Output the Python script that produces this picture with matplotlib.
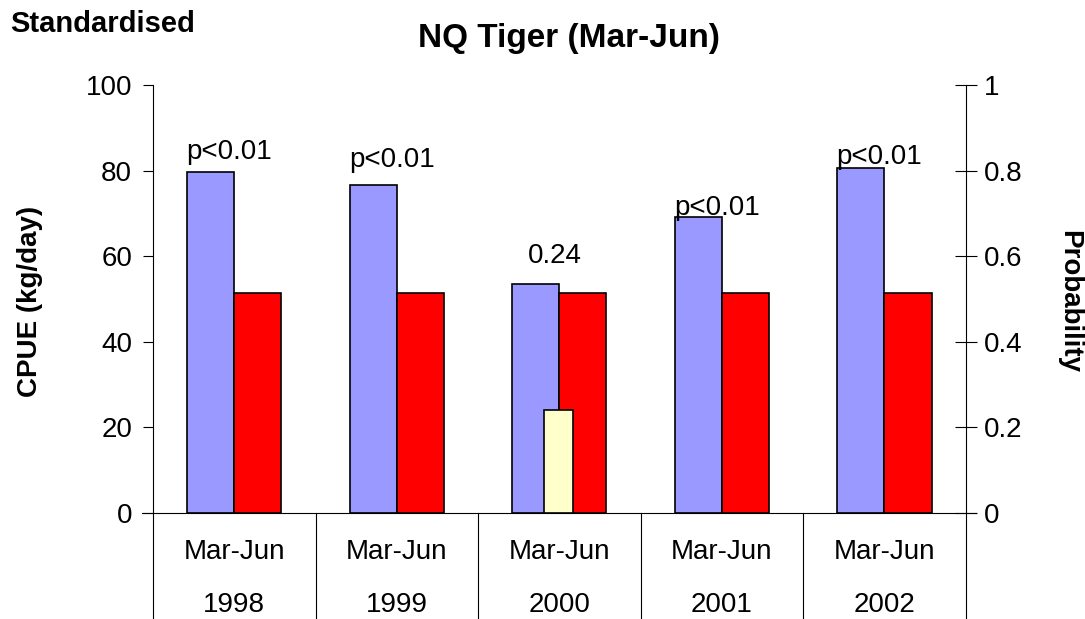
import numpy as np
import matplotlib.pyplot as plt

plt.rcParams['font.family'] = ['Liberation Sans', 'DejaVu Sans']

# data
years = ['1998', '1999', '2000', '2001', '2002']
season = ['Mar-Jun'] * 5
cpue = [79.7, 76.6, 53.5, 69.2, 80.6]
reference = [51.4, 51.4, 51.4, 51.4, 51.4]
prob_idx = [2]
prob_vals = [0.24]
p_labels = ['p<0.01', 'p<0.01', '0.24', 'p<0.01', 'p<0.01']
label_y = [84.3, 82.5, 60.0, 71.3, 83.2]

FS = 20

fig = plt.figure(figsize=(10.85, 6.19), dpi=100)
ax = fig.add_axes([0.141, 0.1712, 0.749, 0.6915])
ax2 = ax.twinx()

x = np.arange(len(years))
w = 0.29
ax.bar(x - w / 2, cpue, w, color='#9999ff', edgecolor='black', lw=1.2, zorder=2)
ax.bar(x + w / 2, reference, w, color='#ff0000', edgecolor='black', lw=1.2, zorder=2)
ax2.bar(np.array(prob_idx) - 0.005, prob_vals, 0.18, color='#ffffcc',
        edgecolor='black', lw=1.2, zorder=3)

for i, (lab, yy) in enumerate(zip(p_labels, label_y)):
    ax.text(i - 0.03, yy, lab, ha='center', va='center', fontsize=FS, zorder=5)

ax.set_xlim(-0.5, 4.5)
ax.set_ylim(0, 100)
ax2.set_ylim(0, 1)
ax.set_yticks(np.arange(0, 101, 20))
ax2.set_yticks(np.arange(0, 1.01, 0.2))
ax2.set_yticklabels(['0', '0.2', '0.4', '0.6', '0.8', '1'])
ax.set_xticks([])
ax.tick_params(axis='y', direction='out', length=7, width=0.8, labelsize=FS, pad=8)
ax2.tick_params(axis='y', direction='inout', length=16, width=0.8, labelsize=FS, pad=5)

for a in (ax, ax2):
    a.spines['top'].set_visible(False)
    a.set_facecolor('none')
ax2.spines['left'].set_visible(False)
ax.spines['right'].set_visible(False)
ax2.spines['bottom'].set_visible(False)
ax.spines['left'].set_linewidth(0.8)
ax2.spines['right'].set_linewidth(0.8)
ax.spines['bottom'].set_linewidth(0.8)
ax.spines['bottom'].set_bounds(-0.565, 4.565)
ax.spines['bottom'].set_zorder(4)

# category separators and two-level labels
tr = ax.get_xaxis_transform()
for b in np.arange(-0.5, 5, 1):
    ax.plot([b, b], [0, -0.25], color='black', lw=0.8, transform=tr, clip_on=False)
for i in x:
    ax.text(i, -0.092, season[i], transform=tr, ha='center', va='center', fontsize=FS)
    ax.text(i, -0.216, years[i], transform=tr, ha='center', va='center', fontsize=FS)

fig.text(0.028, 0.5125, 'CPUE (kg/day)', rotation=90, ha='center', va='center',
         fontsize=FS, fontweight='bold')
fig.text(0.985, 0.5125, 'Probability', rotation=-90, ha='center', va='center',
         fontsize=FS, fontweight='bold')

fig.text(0.524, 0.937, 'NQ Tiger (Mar-Jun)', ha='center', va='center',
         fontsize=24, fontweight='bold')
fig.text(0.009, 0.962, 'Standardised', ha='left', va='center',
         fontsize=21, fontweight='bold')

fig.savefig('out.png', dpi=100)
